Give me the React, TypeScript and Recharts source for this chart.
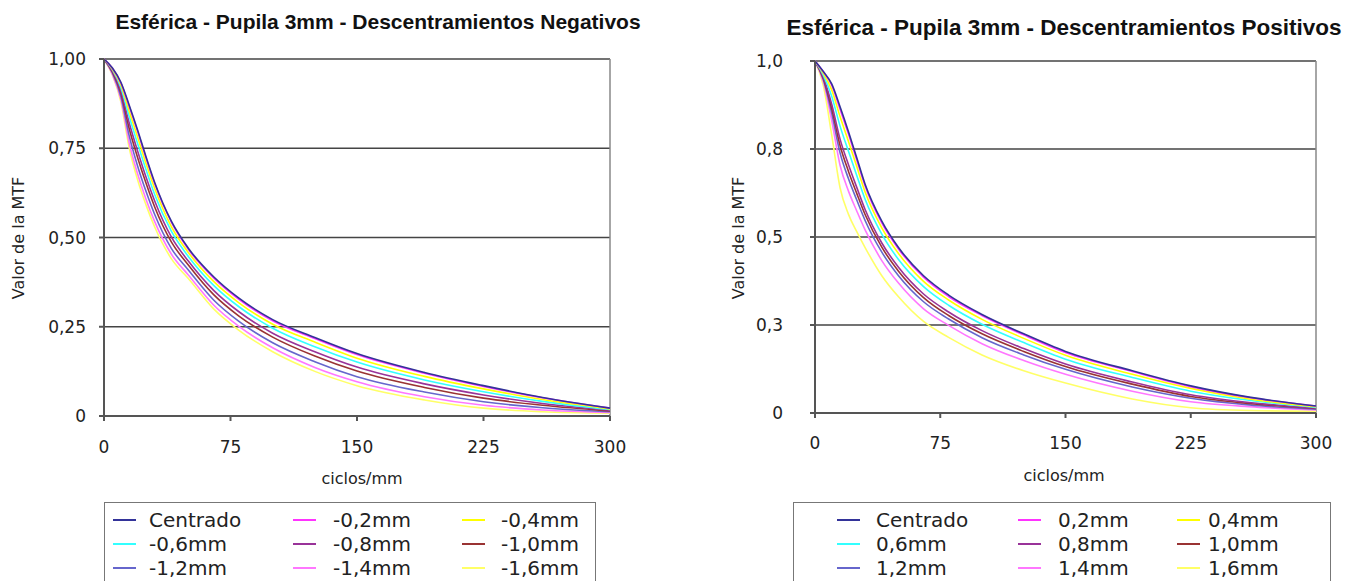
import React from "react";
import {
  LineChart,
  Line,
  XAxis,
  YAxis,
  CartesianGrid,
  ReferenceLine,
} from "recharts";

// spatial frequency samples (ciclos/mm)
const FREQS = [0, 5, 10, 15, 20, 25, 30, 40, 50, 65, 80, 100, 125, 150, 190, 225, 260, 300];

const X_TICKS = [0, 75, 150, 225, 300];
const Y_TICKS = [0, 0.25, 0.5, 0.75, 1];
const Y_LABELS_NEG = ["0", "0,25", "0,50", "0,75", "1,00"];
const Y_LABELS_POS = ["0", "0,3", "0,5", "0,8", "1,0"];

const NEG_NAMES = ["Centrado", "-0,2mm", "-0,4mm", "-0,6mm", "-0,8mm", "-1,0mm", "-1,2mm", "-1,4mm", "-1,6mm"];
const POS_NAMES = ["Centrado", "0,2mm", "0,4mm", "0,6mm", "0,8mm", "1,0mm", "1,2mm", "1,4mm", "1,6mm"];

// MTF, descentramientos negativos
const NEG_CENTRADO = [1, 0.975, 0.935, 0.87, 0.8, 0.725, 0.655, 0.545, 0.47, 0.39, 0.33, 0.27, 0.22, 0.175, 0.122, 0.085, 0.052, 0.022];
const NEG_02 = [1, 0.974, 0.933, 0.866, 0.796, 0.721, 0.651, 0.542, 0.467, 0.387, 0.327, 0.267, 0.217, 0.172, 0.12, 0.083, 0.051, 0.022];
const NEG_04 = [1, 0.972, 0.927, 0.853, 0.78, 0.706, 0.638, 0.53, 0.458, 0.377, 0.317, 0.257, 0.207, 0.162, 0.111, 0.076, 0.046, 0.02];
const NEG_06 = [1, 0.97, 0.92, 0.838, 0.762, 0.689, 0.621, 0.517, 0.447, 0.366, 0.306, 0.246, 0.194, 0.151, 0.101, 0.068, 0.041, 0.018];
const NEG_08 = [1, 0.967, 0.912, 0.82, 0.741, 0.668, 0.603, 0.501, 0.434, 0.352, 0.292, 0.232, 0.18, 0.137, 0.09, 0.059, 0.035, 0.016];
const NEG_10 = [1, 0.964, 0.905, 0.804, 0.723, 0.651, 0.586, 0.487, 0.423, 0.34, 0.28, 0.221, 0.168, 0.126, 0.08, 0.05, 0.03, 0.014];
const NEG_12 = [1, 0.961, 0.895, 0.784, 0.699, 0.628, 0.565, 0.469, 0.409, 0.325, 0.265, 0.205, 0.152, 0.11, 0.067, 0.04, 0.023, 0.012];
const NEG_14 = [1, 0.957, 0.887, 0.764, 0.677, 0.606, 0.545, 0.453, 0.395, 0.311, 0.251, 0.191, 0.136, 0.096, 0.054, 0.03, 0.017, 0.01];
const NEG_16 = [1, 0.955, 0.88, 0.75, 0.66, 0.59, 0.53, 0.44, 0.385, 0.3, 0.24, 0.18, 0.125, 0.085, 0.045, 0.022, 0.012, 0.008];

// MTF, descentramientos positivos
const POS_CENTRADO = [1, 0.97, 0.935, 0.87, 0.8, 0.725, 0.65, 0.545, 0.47, 0.39, 0.335, 0.28, 0.225, 0.175, 0.12, 0.077, 0.045, 0.02];
const POS_02 = [1, 0.969, 0.931, 0.863, 0.793, 0.719, 0.645, 0.54, 0.466, 0.386, 0.331, 0.277, 0.222, 0.172, 0.118, 0.075, 0.044, 0.02];
const POS_04 = [1, 0.965, 0.918, 0.842, 0.772, 0.7, 0.628, 0.526, 0.453, 0.374, 0.321, 0.266, 0.212, 0.164, 0.11, 0.07, 0.04, 0.018];
const POS_06 = [1, 0.96, 0.9, 0.815, 0.744, 0.675, 0.607, 0.508, 0.436, 0.359, 0.306, 0.252, 0.2, 0.153, 0.101, 0.062, 0.036, 0.016];
const POS_08 = [1, 0.954, 0.877, 0.778, 0.706, 0.641, 0.578, 0.483, 0.414, 0.338, 0.287, 0.234, 0.183, 0.139, 0.088, 0.052, 0.03, 0.014];
const POS_10 = [1, 0.951, 0.865, 0.76, 0.687, 0.624, 0.564, 0.471, 0.403, 0.328, 0.277, 0.225, 0.175, 0.132, 0.082, 0.047, 0.027, 0.013];
const POS_12 = [1, 0.947, 0.852, 0.739, 0.666, 0.605, 0.547, 0.457, 0.39, 0.316, 0.267, 0.214, 0.165, 0.124, 0.074, 0.042, 0.023, 0.011];
const POS_14 = [1, 0.941, 0.831, 0.704, 0.631, 0.574, 0.52, 0.433, 0.369, 0.296, 0.249, 0.197, 0.149, 0.11, 0.062, 0.032, 0.018, 0.009];
const POS_16 = [1, 0.93, 0.79, 0.64, 0.565, 0.515, 0.47, 0.39, 0.33, 0.26, 0.215, 0.165, 0.12, 0.085, 0.04, 0.015, 0.007, 0.005];

const NEG_SERIES = [NEG_CENTRADO, NEG_02, NEG_04, NEG_06, NEG_08, NEG_10, NEG_12, NEG_14, NEG_16];
const POS_SERIES = [POS_CENTRADO, POS_02, POS_04, POS_06, POS_08, POS_10, POS_12, POS_14, POS_16];

const COLORS = ["#333399", "#ff33ff", "#ffff00", "#33ffff", "#993399", "#993333", "#6666cc", "#ff77ff", "#ffff66"];

const FONT = "'DejaVu Sans', sans-serif";
const TITLE_FONT = "'Liberation Sans', Arial, sans-serif";
const AXIS = "#555";

function buildRows(series: number[][]) {
  return FREQS.map((f, i) => {
    const row: Record<string, number> = { f };
    series.forEach((s, k) => {
      row["s" + k] = s[i];
    });
    return row;
  });
}

type PanelProps = {
  left: number;
  width: number;
  margin: { top: number; right: number; left: number; bottom: number };
  yAxisWidth: number;
  xAxisHeight: number;
  yTickMargin: number;
  xTickMargin: number;
  series: number[][];
  names: string[];
  yLabels: string[];
  title: string;
  titleX: number;
  titleY: number;
  titleSize: number;
  xLabelX: number;
  xLabelY: number;
  yLabelX: number;
  yLabelY: number;
  legendLeft: number;
  legendWidth: number;
  legendCols: { line: number; text: number }[];
};

function Panel(p: PanelProps) {
  const rows = buildRows(p.series);
  const order = p.series.map((_, k) => k).reverse();
  return (
    <>
      <div
        style={{
          position: "absolute",
          left: p.titleX,
          top: p.titleY,
          transform: "translate(-50%, -50%)",
          whiteSpace: "nowrap",
          fontFamily: TITLE_FONT,
          fontWeight: "bold",
          fontSize: p.titleSize,
          color: "#111",
        }}
      >
        {p.title}
      </div>
      <div style={{ position: "absolute", left: p.left, top: 0 }}>
        <LineChart width={p.width} height={480} data={rows} margin={p.margin}>
          <CartesianGrid vertical={false} stroke="#444" strokeWidth={1.3} />
          <XAxis
            dataKey="f"
            type="number"
            domain={[0, 300]}
            ticks={X_TICKS}
            height={p.xAxisHeight}
            stroke={AXIS}
            strokeWidth={2}
            tickSize={5}
            tickMargin={p.xTickMargin}
            tick={{ fill: "#222", fontSize: 17, fontFamily: FONT }}
          />
          <YAxis
            type="number"
            domain={[0, 1]}
            ticks={Y_TICKS}
            width={p.yAxisWidth}
            stroke={AXIS}
            strokeWidth={2}
            tickSize={5}
            tickMargin={p.yTickMargin}
            tickFormatter={(v: number) => p.yLabels[Y_TICKS.indexOf(v)]}
            tick={{ fill: "#222", fontSize: 17, fontFamily: FONT }}
          />
          <ReferenceLine x={300} stroke="#888" strokeWidth={1.5} />
          {order.map((k) => (
            <Line
              key={k}
              type="monotone"
              dataKey={"s" + k}
              name={p.names[k]}
              stroke={COLORS[k]}
              strokeWidth={1.6}
              dot={false}
              isAnimationActive={false}
            />
          ))}
        </LineChart>
      </div>
      <div
        style={{
          position: "absolute",
          left: p.xLabelX,
          top: p.xLabelY,
          transform: "translate(-50%, -50%)",
          fontFamily: FONT,
          fontSize: 16,
          color: "#222",
          whiteSpace: "nowrap",
        }}
      >
        ciclos/mm
      </div>
      <div
        style={{
          position: "absolute",
          left: p.yLabelX,
          top: p.yLabelY,
          transform: "translate(-50%, -50%) rotate(-90deg)",
          fontFamily: FONT,
          fontSize: 16,
          color: "#222",
          whiteSpace: "nowrap",
        }}
      >
        Valor de la MTF
      </div>
      <div
        style={{
          position: "absolute",
          left: p.legendLeft,
          top: 502,
          width: p.legendWidth,
          height: 100,
          border: "1.5px solid #777",
          boxSizing: "border-box",
        }}
      >
        {p.names.map((n, k) => {
          const col = p.legendCols[k % 3];
          const rowY = 17 + Math.floor(k / 3) * 24;
          return (
            <React.Fragment key={n}>
              <div
                style={{
                  position: "absolute",
                  left: col.line,
                  top: rowY - 1,
                  width: 23,
                  height: 2,
                  background: COLORS[k],
                }}
              />
              <div
                style={{
                  position: "absolute",
                  left: col.text,
                  top: rowY,
                  transform: "translateY(-50%)",
                  fontFamily: FONT,
                  fontSize: 20,
                  color: "#222",
                  whiteSpace: "nowrap",
                  lineHeight: 1,
                }}
              >
                {n}
              </div>
            </React.Fragment>
          );
        })}
      </div>
    </>
  );
}

export default function App() {
  return (
    <div
      style={{
        position: "absolute",
        left: 0,
        top: 0,
        width: 1364,
        height: 581,
        overflow: "hidden",
        background: "#fff",
      }}
    >
      <Panel
        left={0}
        width={640}
        margin={{ top: 59, right: 30, left: 0, bottom: 30 }}
        yAxisWidth={104}
        xAxisHeight={34}
        yTickMargin={13}
        xTickMargin={20}
        series={NEG_SERIES}
        names={NEG_NAMES}
        yLabels={Y_LABELS_NEG}
        title="Esférica - Pupila 3mm - Descentramientos Negativos"
        titleX={378}
        titleY={22}
        titleSize={21}
        xLabelX={362}
        xLabelY={478}
        yLabelX={18}
        yLabelY={238}
        legendLeft={104}
        legendWidth={492}
        legendCols={[
          { line: 8, text: 44 },
          { line: 188, text: 228 },
          { line: 357, text: 396 },
        ]}
      />
      <Panel
        left={700}
        width={650}
        margin={{ top: 61, right: 34, left: 0, bottom: 30 }}
        yAxisWidth={115}
        xAxisHeight={37}
        yTickMargin={27}
        xTickMargin={19}
        series={POS_SERIES}
        names={POS_NAMES}
        yLabels={Y_LABELS_POS}
        title="Esférica - Pupila 3mm - Descentramientos Positivos"
        titleX={1064}
        titleY={28}
        titleSize={22.5}
        xLabelX={1064}
        xLabelY={475}
        yLabelX={738}
        yLabelY={238}
        legendLeft={793}
        legendWidth={538}
        legendCols={[
          { line: 43, text: 82 },
          { line: 224, text: 264 },
          { line: 383, text: 414 },
        ]}
      />
    </div>
  );
}
